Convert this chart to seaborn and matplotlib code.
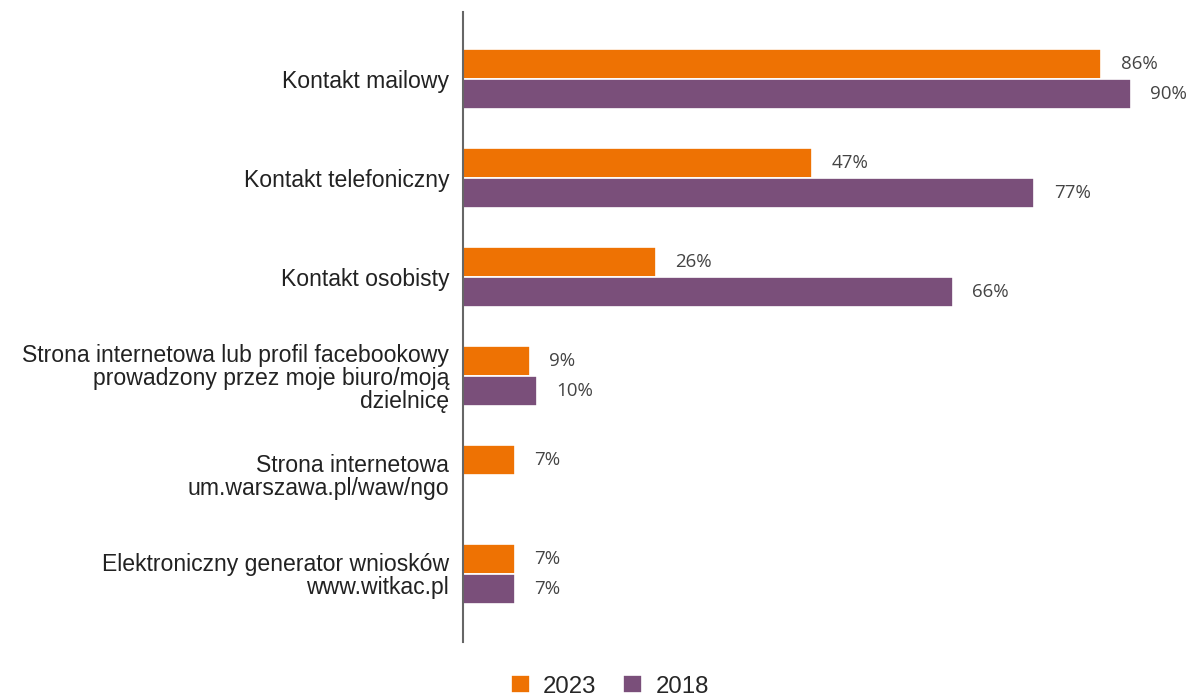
import numpy as np
import pandas as pd
import seaborn as sns
import matplotlib.pyplot as plt

categories = [
    "Kontakt mailowy",
    "Kontakt telefoniczny",
    "Kontakt osobisty",
    "Strona internetowa lub profil facebookowy\nprowadzony przez moje biuro/moją\ndzielnicę",
    "Strona internetowa\num.warszawa.pl/waw/ngo",
    "Elektroniczny generator wniosków\nwww.witkac.pl",
]
values_2023 = [86, 47, 26, 9, 7, 7]
values_2018 = [90, 77, 66, 10, np.nan, 7]
years = ["2023", "2018"]
colors = ["#EE7203", "#7A4F7A"]

df = pd.DataFrame({
    "category": categories * 2,
    "value": values_2023 + values_2018,
    "year": [years[0]] * len(categories) + [years[1]] * len(categories),
})

sns.set_style("white")
plt.rcParams["font.family"] = ["Liberation Sans", "DejaVu Sans"]

fig = plt.figure(figsize=(11.91, 6.96), dpi=100)
ax = fig.add_axes([0.3888, 0.0776, 0.6112, 0.9052])

sns.barplot(data=df, y="category", x="value", hue="year", palette=colors,
            saturation=1, width=0.6, edgecolor="white", linewidth=1.2, ax=ax)

for cont in ax.containers:
    labels = ["" if np.isnan(v) else f"{v:.0f}%" for v in cont.datavalues]
    ax.bar_label(cont, labels=labels, padding=14, fontsize=13.5,
                 color="#444444", family=["Open Sans", "DejaVu Sans"])

ax.set_xlim(0, 98.1)
ax.set_ylim(5.687, -0.677)
ax.set_xlabel("")
ax.set_ylabel("")
ax.set_xticks([])
ax.tick_params(axis="y", length=0, pad=10, labelsize=16.6, labelcolor="#222222")
for lbl in ax.get_yticklabels():
    lbl.set_linespacing(1.0)

for s in ["top", "right", "bottom"]:
    ax.spines[s].set_visible(False)
ax.spines["left"].set_color("#666666")
ax.spines["left"].set_linewidth(1.5)

handles, lbls = ax.get_legend_handles_labels()
ax.legend_.remove()
fig.legend(handles, lbls, loc="center", bbox_to_anchor=(0.512, 0.014), ncol=2,
           frameon=False, fontsize=17.3, handlelength=0.8, handleheight=0.8,
           columnspacing=1.1, handletextpad=0.55)

fig.savefig("out.png", dpi=100)
